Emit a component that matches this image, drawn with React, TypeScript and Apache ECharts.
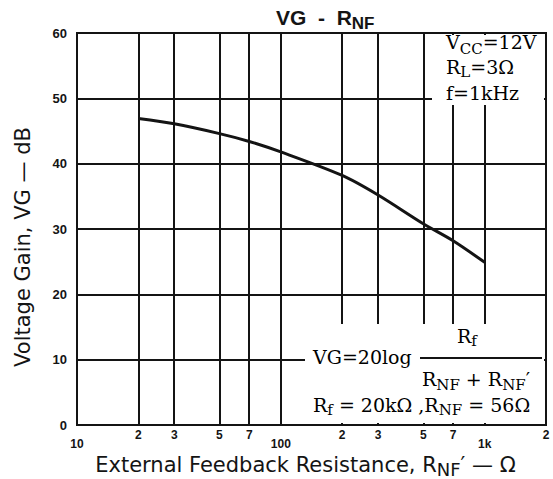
import React, { useEffect, useRef } from "react";
import * as echarts from "echarts";

// Curve: voltage gain vs external feedback resistance
const resistanceOhm = [20, 30, 50, 70, 100, 200, 300, 500, 700, 1000];
const gainDb = [46.9, 46.1, 44.6, 43.4, 41.8, 38.2, 35.2, 30.8, 28.2, 24.9];

// X axis tick labels
const majorTicks = [10, 100, 1000];
const majorTickLabels = ["10", "100", "1k"];
const minorTicks = [20, 30, 50, 70, 200, 300, 500, 700, 2000];
const minorTickLabels = ["2", "3", "5", "7", "2", "3", "5", "7", "2"];

// Y axis
const yMin = 0;
const yMax = 60;
const yStep = 10;

const INK = "#141414";
const SERIF = "DejaVu Serif";
const SANS = "DejaVu Sans";

export default function App() {
  const ref = useRef<HTMLDivElement>(null);

  useEffect(() => {
    const chart = echarts.init(ref.current!, null, { renderer: "svg" });

    const subRich = (size: number, drop: number) => ({
      m: { fontSize: size, fontFamily: SERIF, color: INK, verticalAlign: "top" },
      s: {
        fontSize: Math.round(size * 0.8),
        fontFamily: SERIF,
        color: INK,
        verticalAlign: "top",
        padding: [drop, 0, 0, 0],
      },
    });

    const option: any = {
      animation: false,
      backgroundColor: "#fff",
      title: {
        text: "{m|VG  -  R}{s|NF}",
        left: 271,
        top: 2,
        textStyle: {
          rich: {
            m: { fontSize: 21, fontFamily: "Liberation Sans", fontWeight: "bold", color: INK, verticalAlign: "top" },
            s: { fontSize: 17, fontFamily: "Liberation Sans", fontWeight: "bold", color: INK, verticalAlign: "top", padding: [8, 0, 0, 0] },
          },
        },
      },
      grid: {
        left: 77,
        right: 7,
        top: 33,
        bottom: 54,
        show: true,
        borderColor: INK,
        borderWidth: 2,
        containLabel: false,
        outerBoundsMode: "none",
      },
      xAxis: {
        type: "log",
        logBase: 10,
        min: 10,
        max: 2000,
        name: "{m|External Feedback Resistance, R}{s|NF}{m|′ — Ω}",
        nameLocation: "middle",
        nameGap: 25,
        nameTextStyle: {
          padding: [0, 12, 0, 0],
          rich: {
            m: { fontSize: 21, fontFamily: SANS, color: INK, verticalAlign: "top" },
            s: { fontSize: 18, fontFamily: SANS, color: INK, verticalAlign: "top", padding: [6, 0, 0, 0] },
          },
        },
        axisLine: { show: true, lineStyle: { color: INK, width: 2 } },
        axisTick: { show: false },
        minorTick: { show: false },
        splitLine: { show: true, lineStyle: { color: INK, width: 2 } },
        axisLabel: {
          margin: 13,
          fontSize: 12,
          fontWeight: "bold",
          fontFamily: "Liberation Sans",
          color: INK,
          showMaxLabel: false,
          formatter: (v: number) => {
            const i = majorTicks.findIndex((t) => Math.abs(t - v) < 1e-6 * t);
            return i >= 0 ? majorTickLabels[i] : "";
          },
        },
      },
      yAxis: {
        type: "value",
        min: yMin,
        max: yMax,
        interval: yStep,
        name: "Voltage Gain, VG — dB",
        nameLocation: "middle",
        nameGap: 44,
        nameTextStyle: { fontSize: 21, fontFamily: SANS, color: INK, padding: [0, 36, 0, 0] },
        axisLine: { show: true, lineStyle: { color: INK, width: 2 } },
        axisTick: { show: false },
        splitLine: { show: true, lineStyle: { color: INK, width: 2 } },
        axisLabel: {
          margin: 10,
          fontSize: 13,
          fontWeight: "bold",
          fontFamily: "Liberation Sans",
          color: INK,
        },
      },
      series: [
        {
          type: "line",
          data: resistanceOhm.map((r, i) => [r, gainDb[i]]),
          smooth: 0.3,
          symbol: "none",
          lineStyle: { color: INK, width: 3 },
          silent: true,
          z: 3,
          markLine: {
            silent: true,
            symbol: "none",
            animation: false,
            lineStyle: { color: INK, width: 2, type: "solid" },
            label: {
              show: true,
              position: "start",
              distance: 4,
              fontSize: 12,
              fontWeight: "bold",
              fontFamily: "Liberation Sans",
              color: INK,
              formatter: (p: any) => p.name,
            },
            emphasis: { disabled: true },
            data: minorTicks.map((v, i) => ({ xAxis: v, name: minorTickLabels[i] })),
          },
        },
      ],
      graphic: [
        // white panels for annotations
        { type: "rect", z: 100, shape: { x: 432, y: 35, width: 112, height: 70 }, style: { fill: "#fff" } },
        { type: "rect", z: 100, shape: { x: 305, y: 324, width: 239, height: 99 }, style: { fill: "#fff" } },
        {
          type: "text", z: 101, x: 446, y: 32,
          style: { text: "{m|V}{s|CC}{m|=12V}", rich: subRich(19, 9) },
        },
        {
          type: "text", z: 101, x: 446, y: 57,
          style: { text: "{m|R}{s|L}{m|=3Ω}", rich: subRich(19, 7) },
        },
        {
          type: "text", z: 101, x: 446, y: 83,
          style: { text: "{m|f=1kHz}", rich: subRich(19, 7) },
        },
        {
          type: "text", z: 101, x: 457, y: 326,
          style: { text: "{m|R}{s|f}", rich: subRich(19, 7) },
        },
        {
          type: "text", z: 101, x: 313, y: 347,
          style: { text: "{m|VG=20log}", rich: subRich(19, 7) },
        },
        {
          type: "line", z: 101,
          shape: { x1: 420, y1: 358, x2: 542, y2: 358 },
          style: { stroke: INK, lineWidth: 2 },
        },
        {
          type: "text", z: 101, x: 422, y: 369,
          style: { text: "{m|R}{s|NF}{m| + R}{s|NF}{m|′}", rich: subRich(19, 8) },
        },
        {
          type: "text", z: 101, x: 313, y: 395,
          style: { text: "{m|R}{s|f}{m| = 20kΩ ,R}{s|NF}{m| = 56Ω}", rich: subRich(19, 7) },
        },
      ],
    };

    chart.setOption(option);
    return () => chart.dispose();
  }, []);

  return (
    <div
      ref={ref}
      style={{ position: "absolute", left: 0, top: 0, width: 553, height: 479 }}
    />
  );
}
